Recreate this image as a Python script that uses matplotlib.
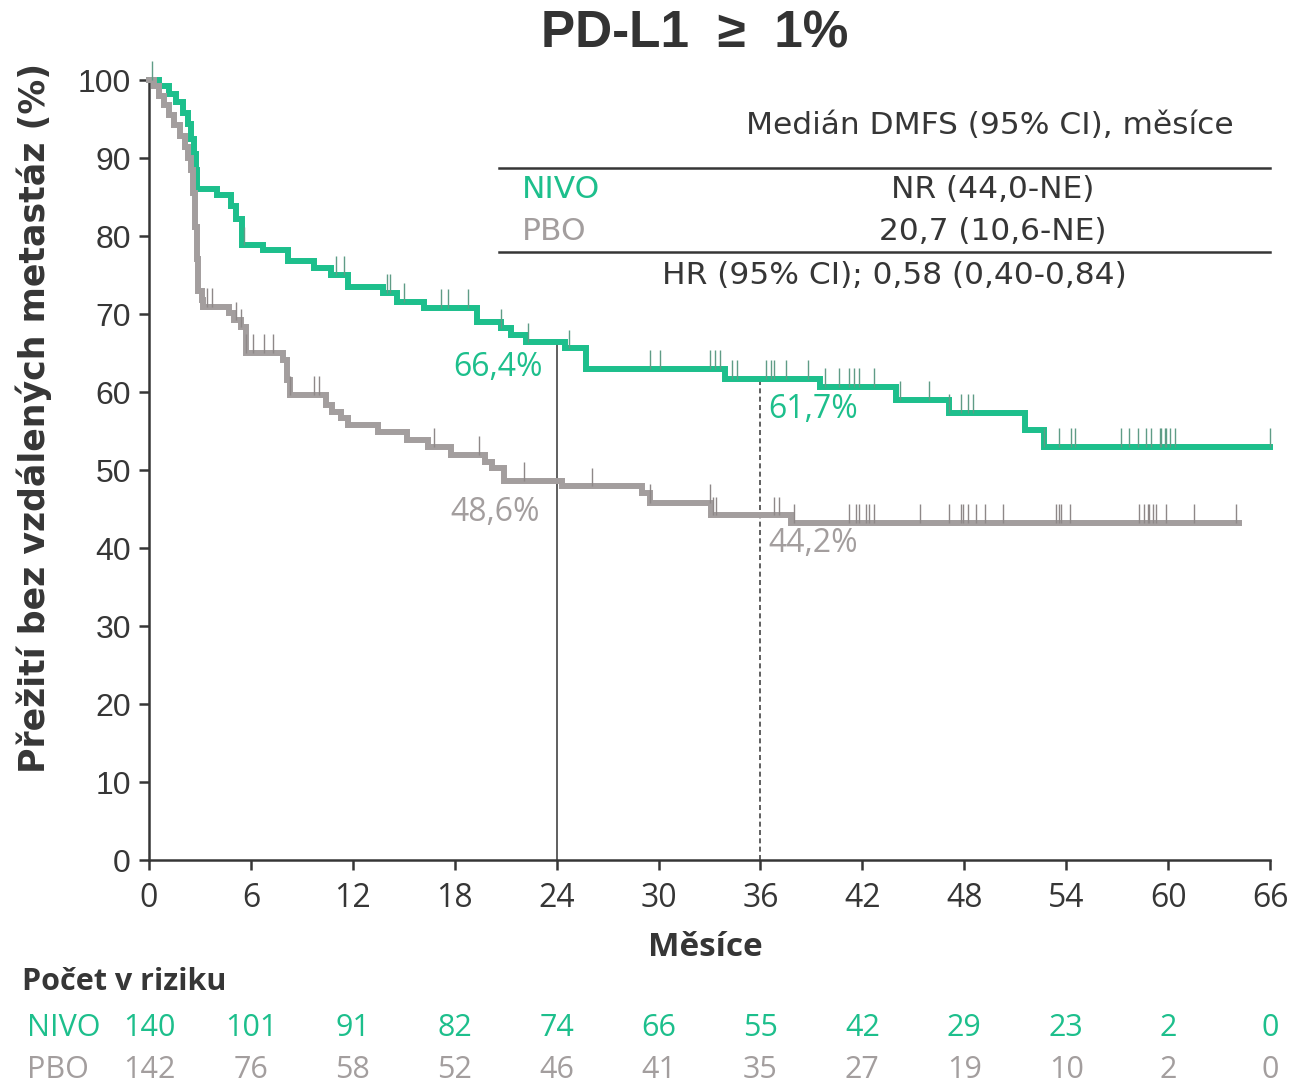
import numpy as np
import matplotlib
matplotlib.use("Agg")
import matplotlib.pyplot as plt
from matplotlib.lines import Line2D
from matplotlib.transforms import blended_transform_factory

NARROW = 'Open Sans'
BODY = 'DejaVu Sans'
ARIAL = 'Liberation Sans'

GREEN = '#1dbf8c'
GREEN_TICK = '#5f9c86'
GRAY = '#a39e9e'
GRAY_TICK = '#8e8888'
DARK = '#363636'

# ---- data ----
# NIVO step curve: time of each drop (months) and survival after it (%)
nivo_t = [0, 0.6, 1.2, 1.6, 2.0, 2.3, 2.5, 2.65, 2.75, 2.85, 4.0, 4.8, 5.1, 5.5,
          6.7, 8.2, 9.7, 10.7, 11.7, 13.8, 14.6, 16.2, 19.3, 20.7, 21.3, 22.2,
          24.5, 25.7, 33.9, 39.5, 44.0, 47.1, 51.6, 52.7]
nivo_s = [100, 99.2, 98.2, 97.2, 95.8, 94.3, 92.5, 90.5, 88.5, 86.0, 85.3, 83.8, 82.2, 78.8,
          78.2, 76.8, 75.9, 75.0, 73.5, 72.7, 71.6, 70.8, 69.0, 68.2, 67.3, 66.4,
          65.6, 63.0, 61.7, 60.7, 59.0, 57.3, 55.1, 53.0]
nivo_end = 66.0
nivo_cens = [0.15, 5.6, 11.0, 11.5, 14.0, 14.2, 15.0, 17.2, 17.6, 18.8, 20.7, 22.3, 24.7,
             29.5, 30.1, 33.0, 33.3, 33.6, 34.3, 34.6, 36.3, 36.6, 36.8, 37.5, 38.8,
             39.8, 40.6, 41.2, 41.5, 41.8, 42.7, 44.2, 45.9, 47.1, 47.8, 48.2, 48.5,
             52.7, 53.6, 54.3, 54.5, 57.2, 57.7, 58.2, 58.7, 59.0, 59.5, 59.6, 59.8,
             59.9, 60.1, 60.4, 66.0]

# PBO step curve
pbo_t = [0, 0.3, 0.6, 0.9, 1.2, 1.5, 1.8, 2.1, 2.3, 2.5, 2.6, 2.7, 2.8, 2.9, 3.1, 3.2,
         4.7, 5.0, 5.4, 5.7, 7.9, 8.1, 8.3, 10.4, 10.8, 11.3, 11.7, 13.5, 15.2, 16.4,
         17.8, 19.8, 20.2, 20.9, 24.3, 29.0, 29.5, 33.1, 37.8]
pbo_s = [100, 99.2, 98.0, 96.8, 95.5, 94.2, 92.8, 91.4, 90.0, 88.5, 85.5, 81.2, 77.0, 73.0,
         71.8, 70.9, 70.1, 69.2, 68.3, 65.0, 64.1, 61.5, 59.6, 58.3, 57.4, 56.7, 55.8,
         54.9, 53.8, 53.0, 51.9, 51.0, 50.2, 48.6, 47.9, 47.0, 45.8, 44.2, 43.2]
pbo_end = 64.2
pbo_cens = [3.4, 3.7, 5.1, 5.4, 5.7, 6.1, 6.8, 7.3, 8.3, 9.7, 10.0, 16.8, 19.4, 22.1,
            26.1, 29.5, 33.0, 33.2, 33.4, 36.8, 37.1, 38.0, 41.2, 41.6, 41.8, 42.2,
            42.4, 42.7, 45.4, 47.1, 47.8, 47.9, 48.2, 48.7, 49.2, 50.3, 53.4, 53.6,
            53.7, 54.2, 58.3, 58.6, 58.8, 58.9, 59.1, 59.3, 59.9, 61.5, 64.0]

months = [0, 6, 12, 18, 24, 30, 36, 42, 48, 54, 60, 66]
yticks = [0, 10, 20, 30, 40, 50, 60, 70, 80, 90, 100]
nivo_risk = [140, 101, 91, 82, 74, 66, 55, 42, 29, 23, 2, 0]
pbo_risk = [142, 76, 58, 52, 46, 41, 35, 27, 19, 10, 2, 0]

# landmark values
nivo_24, pbo_24 = 66.4, 48.6
nivo_36, pbo_36 = 61.7, 44.2


def step_at(t, times, surv):
    idx = np.searchsorted(times, t, side='right') - 1
    return np.asarray(surv)[idx]


W, H = 1293, 1086
fig = plt.figure(figsize=(W / 100, H / 100), dpi=100)
fig.patch.set_facecolor('white')


def fx(x):
    return x / W


def fy(y):
    return 1 - y / H


ax = fig.add_axes([fx(149), fy(860), fx(1270) - fx(149), fy(80) - fy(860)])
ax.set_xlim(0, 66)
ax.set_ylim(0, 100)
for s in ['top', 'right']:
    ax.spines[s].set_visible(False)
for s in ['left', 'bottom']:
    ax.spines[s].set_linewidth(1.8)
    ax.spines[s].set_color(DARK)
ax.set_xticks(months)
ax.set_yticks(yticks)
ax.tick_params(axis='both', length=7, width=1.8, color=DARK, labelcolor=DARK)
ax.tick_params(axis='y', pad=6)
ax.tick_params(axis='x', pad=9)
for lab in ax.get_yticklabels():
    lab.set_fontfamily(ARIAL)
    lab.set_fontsize(23)
for lab in ax.get_xticklabels():
    lab.set_fontfamily(NARROW)
    lab.set_fontsize(23)

# landmark lines
ax.plot([24, 24], [0, nivo_24], color='#444444', lw=1.2, zorder=1)
ax.plot([36, 36], [0, nivo_36], color='#444444', lw=1.2, ls=(0, (3, 2)), zorder=1)

# curves
for t, s, end, cens, col, tcol in [(nivo_t, nivo_s, nivo_end, nivo_cens, GREEN, GREEN_TICK),
                                    (pbo_t, pbo_s, pbo_end, pbo_cens, GRAY, GRAY_TICK)]:
    ax.step(list(t) + [end], list(s) + [s[-1]], where='post', color=col, lw=4.3,
            zorder=3, solid_joinstyle='miter', clip_on=False)
    cy = step_at(cens, t, s)
    ax.vlines(cens, cy, cy + 2.4, color=tcol, lw=1.0, zorder=4, clip_on=False)

# landmark labels
ax.text(23.2, 63.1, '66,4%', ha='right', va='center', color=GREEN, fontsize=23, family=NARROW)
ax.text(23.0, 44.6, '48,6%', ha='right', va='center', color=GRAY, fontsize=23, family=NARROW)
ax.text(36.45, 57.7, '61,7%', ha='left', va='center', color=GREEN, fontsize=23, family=NARROW)
ax.text(36.45, 40.6, '44,2%', ha='left', va='center', color=GRAY, fontsize=23, family=NARROW)

# title and axis labels
fig.text(fx(695), fy(34), 'PD-L1  ≥  1%', ha='center', va='center', fontsize=37,
         fontweight='bold', family=ARIAL, color='#333333')
fig.text(fx(34), fy(418), 'Přežití bez vzdálených metastáz (%)', rotation=90,
         ha='center', va='center', fontsize=25, family=BODY, fontweight='bold', color=DARK)
fig.text(fx(705), fy(947), 'Měsíce', ha='center', va='center', fontsize=24,
         family=NARROW, fontweight='bold', color=DARK)

# median table
TS = 22.5
fig.text(fx(990), fy(126), 'Medián DMFS (95% CI), měsíce', ha='center', va='center',
         fontsize=TS, family=BODY, color=DARK)
for yy in (168, 252):
    fig.add_artist(Line2D([fx(499), fx(1270)], [fy(yy), fy(yy)], color=DARK, lw=1.8))
fig.text(fx(522), fy(190), 'NIVO', ha='left', va='center', fontsize=TS, family=BODY, color=GREEN)
fig.text(fx(993), fy(190), 'NR (44,0-NE)', ha='center', va='center', fontsize=TS, family=BODY, color=DARK)
fig.text(fx(522), fy(232), 'PBO', ha='left', va='center', fontsize=TS, family=BODY, color=GRAY)
fig.text(fx(993), fy(232), '20,7 (10,6-NE)', ha='center', va='center', fontsize=TS, family=BODY, color=DARK)
fig.text(fx(894), fy(275), 'HR (95% CI); 0,58 (0,40-0,84)', ha='center', va='center',
         fontsize=TS, family=BODY, color=DARK)

# numbers at risk
fig.text(fx(22), fy(982), 'Počet v riziku', ha='left', va='center', fontsize=22,
         family=NARROW, fontweight='bold', color=DARK)
fig.text(fx(27), fy(1028), 'NIVO', ha='left', va='center', fontsize=22, family=NARROW, color=GREEN)
fig.text(fx(27), fy(1070), 'PBO', ha='left', va='center', fontsize=22, family=NARROW, color=GRAY)
tr = blended_transform_factory(ax.transData, fig.transFigure)
for m, a, b in zip(months, nivo_risk, pbo_risk):
    ax.text(m, fy(1028), str(a), transform=tr, ha='center', va='center', fontsize=22,
            family=NARROW, color=GREEN)
    ax.text(m, fy(1070), str(b), transform=tr, ha='center', va='center', fontsize=22,
            family=NARROW, color=GRAY)

fig.savefig('out.png', dpi=100, facecolor='white')
